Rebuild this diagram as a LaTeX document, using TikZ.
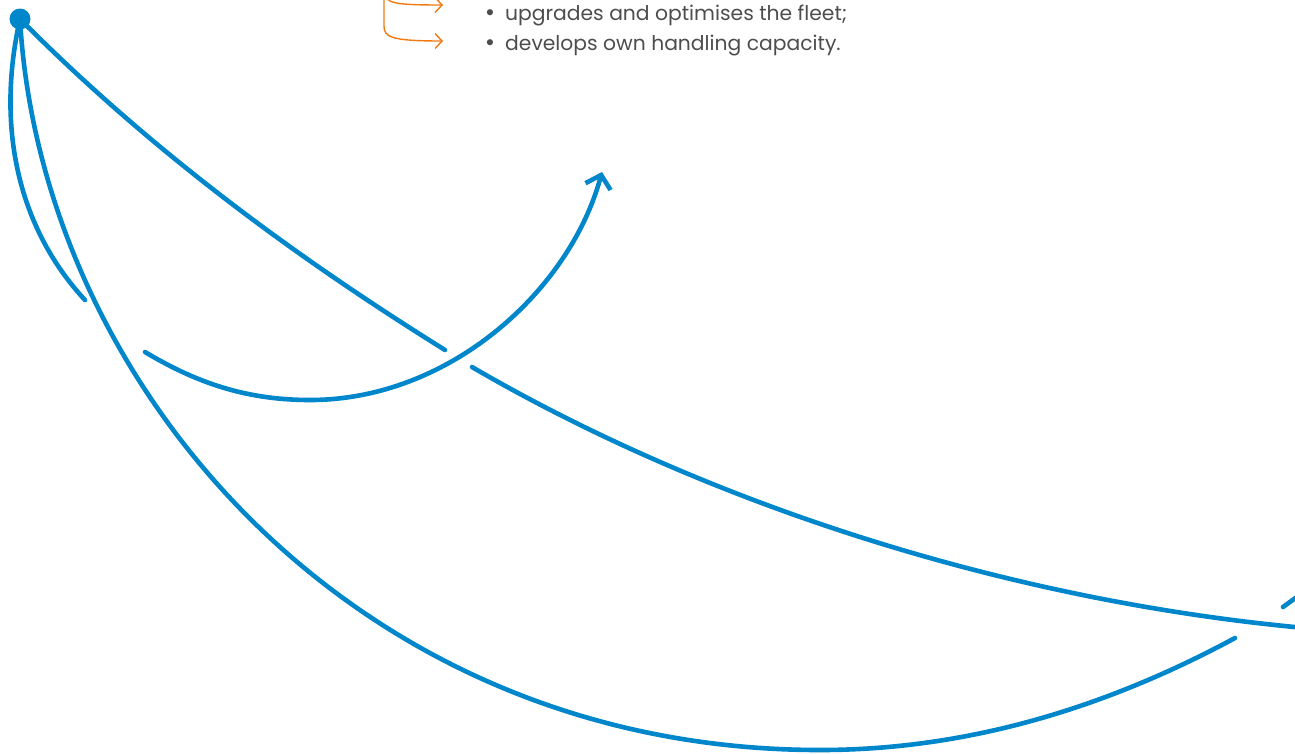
\documentclass[tikz,border=0pt]{standalone}
\usepackage{fontspec}
\setmainfont{Poppins}
\newfontfamily\bfnt{DejaVu Sans}
\usetikzlibrary{arrows.meta}
\definecolor{bl}{HTML}{0086CA}
\definecolor{orn}{HTML}{F27A12}
\definecolor{txt}{HTML}{4D4D4D}
\newcommand{\bul}{\makebox[0pt][r]{{\bfnt\fontsize{21}{21}\selectfont •}\hspace{9pt}}}
\tikzset{
  curve/.style={draw=bl, line width=4.6pt, line cap=round},
  orangearrow/.style={draw=orn, line width=1.4pt, -{Straight Barb[length=7pt,width=15pt,line width=1.4pt]}},
  bullettext/.style={anchor=base west, inner sep=0pt, text=txt, font=\fontsize{20.3}{22}\selectfont}
}
\begin{document}
\begin{tikzpicture}[x=1pt,y=-1pt]
\useasboundingbox (0,0) rectangle (1295,753);
% text
\node[bullettext] (t1) at (505,20) {\bul upgrades and optimises the fleet;};
\node[bullettext] (t2) at (505,50) {\bul develops own handling capacity.};
% orange arrows
\coordinate (o0) at (384,-8);
\coordinate (o1) at (443,5);
\coordinate (o2) at (443,41);
\draw[orangearrow] (o0) .. controls (386,3) and (392,5) .. (o1);
\draw[orangearrow] (o0) -- (384,26) .. controls (384,37) and (391,41) .. (o2);
% hub
\node[circle, fill=bl, inner sep=0pt, minimum size=21pt] (hub) at (20,19) {};
% curve A
\coordinate (a1) at (85,300);
\draw[curve] (hub.center) .. controls (-5,130) and (20,230) .. (a1);
% curve D
\coordinate (d1) at (820,750);
\coordinate (d2) at (1235,638);
\coordinate (d3) at (1283,607);
\coordinate (d4) at (1305,591);
\draw[curve] (hub.center) .. controls (40,380) and (350,750) .. (d1)
   .. controls (980,750) and (1120,700) .. (d2);
\draw[curve] (d3) -- (d4);
% curve C
\coordinate (c1) at (445,350);
\coordinate (c2) at (472,367);
\coordinate (c3) at (1305,628);
\draw[curve] (hub.center) .. controls (165,165) and (320,272) .. (c1);
\draw[curve] (c2) .. controls (700,500) and (1000,600) .. (c3);
% curve E with arrow
\coordinate (e0) at (145,352);
\coordinate (e1) at (310,400);
\coordinate (e2) at (602,172);
\draw[curve, -{Straight Barb[length=12pt,width=26pt,line width=4.6pt]}] (e0) .. controls (200,385) and (250,400) .. (e1)
   .. controls (450,400) and (570,290) .. (e2);
\end{tikzpicture}
\end{document}
